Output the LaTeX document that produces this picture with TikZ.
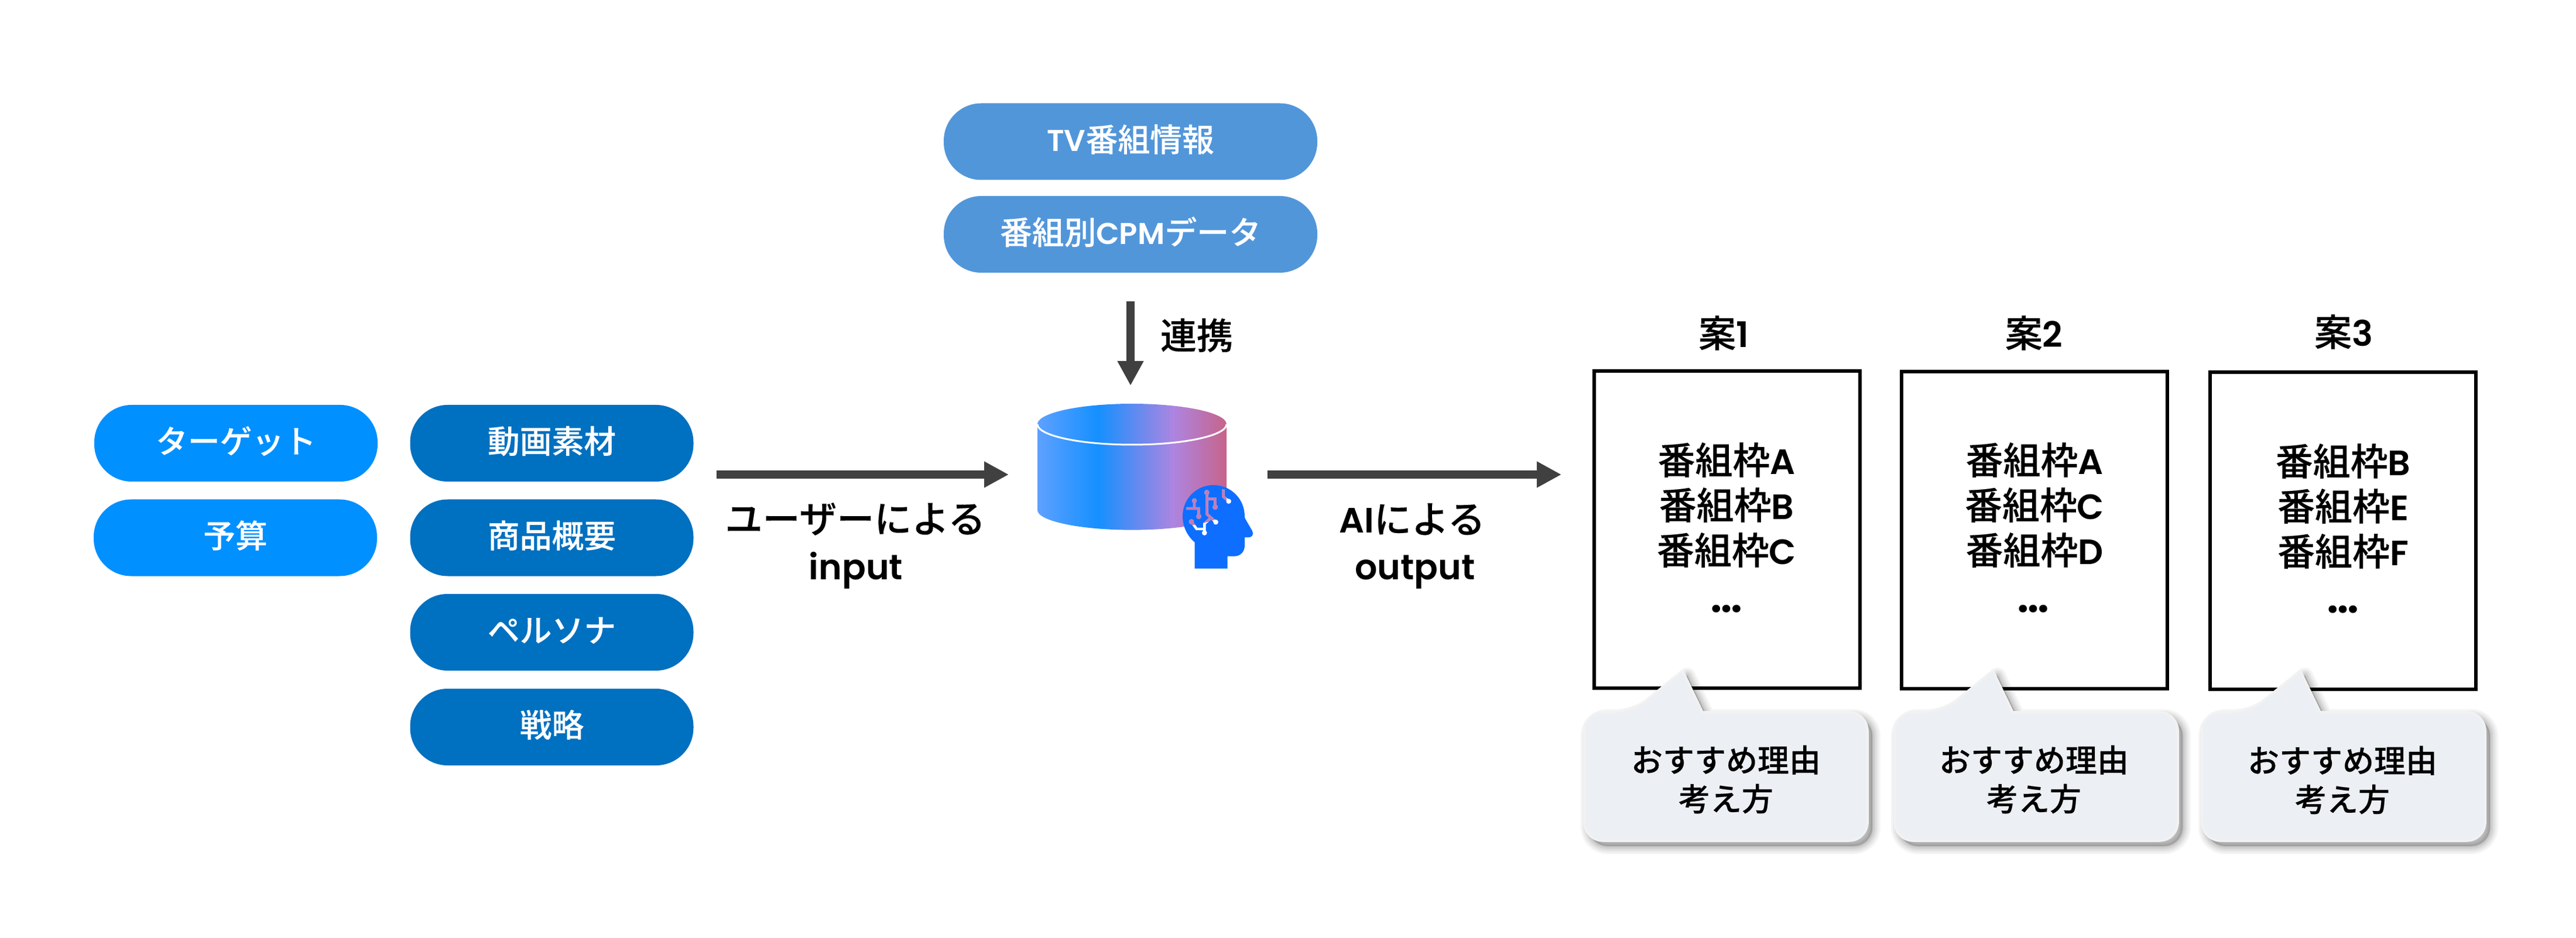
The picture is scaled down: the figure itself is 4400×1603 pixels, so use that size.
\documentclass[tikz,border=0pt]{standalone}
\usepackage{fontspec}
\setmainfont{Noto Sans CJK JP}[BoldFont={Noto Sans CJK JP Medium},BoldFeatures={FakeBold=0.25}]
\newfontfamily\latfont[Scale=0.94,BoldFont={Poppins SemiBold}]{Poppins}
\usetikzlibrary{arrows.meta}
\newcommand{\lat}[1]{{\latfont\bfseries #1}}
\definecolor{pillA}{HTML}{0090FF}
\definecolor{pillB}{HTML}{0070C0}
\definecolor{pillC}{HTML}{5296DA}
\definecolor{arrowc}{HTML}{404040}
\definecolor{bubblec}{HTML}{ECEFF4}
\definecolor{bubbleb}{HTML}{F2F2F2}
\definecolor{headc}{HTML}{0E6EFF}
\definecolor{tracec}{HTML}{BE7DB8}
\pgfdeclarehorizontalshading{dbshade}{100bp}{
  rgb(0bp)=(0.37,0.63,1);
  rgb(25bp)=(0.37,0.63,1);
  rgb(41bp)=(0.08,0.565,1);
  rgb(61bp)=(0.68,0.52,0.88);
  rgb(75bp)=(0.78,0.39,0.54);
  rgb(100bp)=(0.78,0.39,0.54)}
\tikzset{
  pill/.style={rectangle,rounded corners=16pt,inner sep=0pt,minimum width=121pt,minimum height=32.75pt,
    text=white,font=\fontsize{13.7}{16}\selectfont\bfseries,text height=11pt,text depth=2.5pt},
  toppill/.style={pill,fill=pillC,minimum width=159.5pt},
  label/.style={inner sep=0pt,text=black,align=center,font=\fontsize{16}{19.25}\selectfont\bfseries},
  titlelab/.style={label,font=\fontsize{16}{18}\selectfont\bfseries},
  bubbletext/.style={inner sep=0pt,text=black,align=center,font=\fontsize{13.5}{16.6}\selectfont\bfseries},
  framebox/.style={rectangle,draw=black,line width=1.5pt,fill=white,inner sep=0pt,minimum width=113.5pt,minimum height=135.25pt},
  dotslab/.style={label,font=\fontsize{21}{21}\selectfont\bfseries},
  flow/.style={arrowc,line width=3.5pt,-{Triangle[length=10.5pt,width=10.5pt,fill=arrowc]}},
}
\newcommand{\bubblepath}{(204,2) [rounded corners=8pt] -- (486,2) -- (486,222) -- (2,222) -- (2,2) -- (83,2) [sharp corners] -- (170,-69) -- cycle}
\newcommand{\bubble}[2]{%
  \begin{scope}[xshift=#1*0.25pt,yshift=-#2*0.25pt]
    \begin{scope}[xshift=2pt,yshift=-2.2pt]
      \fill[black,opacity=.18] \bubblepath;
      \foreach \lw/\op in {7/.04,5.5/.04,4/.05,2.5/.06,1/.07}
        \draw[black,opacity=\op,line width=\lw pt,line join=round] \bubblepath;
    \end{scope}
    \filldraw[fill=bubblec,draw=bubbleb,line width=.9pt] \bubblepath;
  \end{scope}}
\newcommand{\tracepaths}[1]{%
  \draw[#1,line width=1.1pt]
    (1020,617) -- (1020,650) (980,657) -- (1043,657) -- (1043,697)
    (1084,575) -- (1084,685) -- (1130,727)
    (1084,607) -- (1127,607) -- (1127,650)
    (1105,705) -- (1072,735) -- (1072,782)
    (1005,725) -- (1032,762) -- (1072,762)
    (1168,560) -- (1168,595) -- (1196,620);
  \fill[#1] (1020,617) circle[radius=12] (1043,698) circle[radius=13]
    (1084,575) circle[radius=13] (1130,727) circle[radius=13]
    (1127,650) circle[radius=13] (1072,782) circle[radius=13]
    (1005,725) circle[radius=13] (1196,620) circle[radius=13];}
\begin{document}
\begin{tikzpicture}[x=0.25pt,y=-0.25pt]
\useasboundingbox (0,0) rectangle (4400,1603);
\fill[white] (0,0) rectangle (4400,1603);

% left pills
\node[pill,fill=pillA] (target) at (403,757.5) {ターゲット};
\node[pill,fill=pillA] (budget) at (402,919) {予算};
\node[pill,fill=pillB] (movie) at (942.5,757.5) {動画素材};
\node[pill,fill=pillB] (product) at (942.5,919) {商品概要};
\node[pill,fill=pillB] (persona) at (942.5,1080.5) {ペルソナ};
\node[pill,fill=pillB] (strategy) at (942.5,1242.5) {戦略};

% top pills
\node[toppill] (tvinfo) at (1931,242) {\lat{TV}番組情報};
\node[toppill] (cpm) at (1931,400.5) {番組別\lat{CPM}データ};

% arrows
\coordinate (linkS) at (1931,515);
\coordinate (linkE) at (1931,659);
\coordinate (inS) at (1224,811);
\coordinate (inE) at (1723,811);
\coordinate (outS) at (2165,811);
\coordinate (outE) at (2667,811);
\draw[flow] (linkS) -- (linkE);
\draw[flow] (inS) -- (inE);
\draw[flow] (outS) -- (outE);

\node[label,font=\fontsize{15.5}{18}\selectfont\bfseries] (linklab) at (2044,573) {連携};
\node[label] (inlab) at (1461,887) {ユーザーによる};
\node[label,anchor=base] (inlab2) at (1462,990) {\lat{input}};
\node[label,anchor=base] (outlab) at (2412,911) {\lat{AI}による};
\node[label,anchor=base] (outlab2) at (2417,990) {\lat{output}};

% database + head, in a local frame
\begin{scope}[xshift=425pt,yshift=-162.5pt,x=0.083333pt,y=-0.083333pt]
  \path[shading=dbshade]
    (216,225) -- (1185,225) -- (1185,665)
    .. controls (1185,721) and (968,767) .. (700.5,767)
    .. controls (433,767) and (216,721) .. (216,665) -- cycle;
  \path[shading=dbshade] (700.5,225) ellipse[x radius=484.5,y radius=105];
  \draw[white,line width=.75pt]
    (216,225) .. controls (216,283) and (433,330) .. (700.5,330)
    .. controls (968,330) and (1185,283) .. (1185,225);
  \fill[headc]
    (1022,965) -- (1190,965) -- (1190,902) -- (1225,902)
    .. controls (1256,902) and (1278,878) .. (1278,848)
    -- (1278,805) -- (1300,805)
    .. controls (1316,805) and (1326,788) .. (1317,772)
    -- (1280,708) -- (1278,697)
    .. controls (1278,608) and (1207,537) .. (1118,537)
    .. controls (1030,537) and (960,608) .. (960,697)
    .. controls (960,750) and (985,800) .. (1022,830) -- cycle;
  \tracepaths{white}
  \begin{scope}
    \clip (216,225) -- (1185,225) -- (1185,665)
      .. controls (1185,721) and (968,767) .. (700.5,767)
      .. controls (433,767) and (216,721) .. (216,665) -- cycle;
    \tracepaths{tracec}
  \end{scope}
\end{scope}

% titles
\node[titlelab] (t1) at (2944,569) {案\lat{1}};
\node[titlelab] (t2) at (3474,569) {案\lat{2}};
\node[titlelab] (t3) at (4003,567) {案\lat{3}};

% frames
\node[framebox] (box1) at (2950,905) {};
\node[framebox] (box2) at (3475,906) {};
\node[framebox] (box3) at (4002,907) {};

\node[label] (l1) at (2949,863) {番組枠\lat{A}\\番組枠\lat{B}\\番組枠\lat{C}};
\node[label] (l2) at (3475,863) {番組枠\lat{A}\\番組枠\lat{C}\\番組枠\lat{D}};
\node[label] (l3) at (4002,865) {番組枠\lat{B}\\番組枠\lat{E}\\番組枠\lat{F}};
\node[dotslab] (d1) at (2949,1041) {\lat{…}};
\node[dotslab] (d2) at (3473,1041) {\lat{…}};
\node[dotslab] (d3) at (4002,1042) {\lat{…}};

% callouts
\bubble{2704}{1215}
\bubble{3234}{1215}
\bubble{3759}{1215}
\node[bubbletext] (c1) at (2948,1332) {おすすめ理由\\考え方};
\node[bubbletext] (c2) at (3474,1332) {おすすめ理由\\考え方};
\node[bubbletext] (c3) at (4001,1333) {おすすめ理由\\考え方};
\end{tikzpicture}
\end{document}
